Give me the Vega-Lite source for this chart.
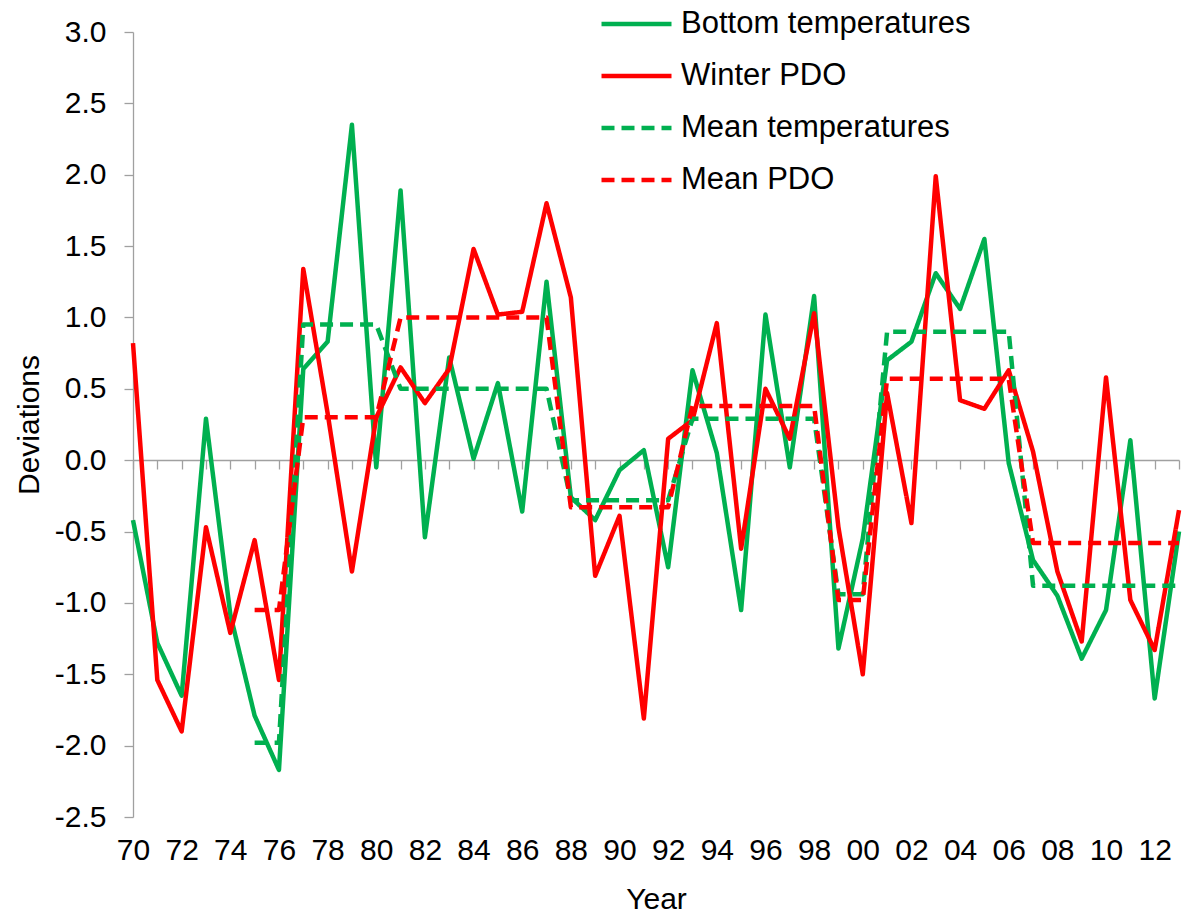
{
  "$schema": "https://vega.github.io/schema/vega-lite/v6.json",
  "width": 1046,
  "height": 785,
  "autosize": {"type": "none"},
  "padding": {"left": 133, "top": 32, "right": 3, "bottom": 101},
  "background": "white",
  "config": {"view": {"stroke": null}, "font": "Liberation Sans", "axis": {"grid": false}},
  "datasets": {
    "bt": [
      {"year":1970,"value":-0.42},{"year":1971,"value":-1.28},{"year":1972,"value":-1.65},{"year":1973,"value":0.29},{"year":1974,"value":-1.08},
      {"year":1975,"value":-1.79},{"year":1976,"value":-2.17},{"year":1977,"value":0.64},{"year":1978,"value":0.83},{"year":1979,"value":2.35},
      {"year":1980,"value":-0.05},{"year":1981,"value":1.89},{"year":1982,"value":-0.54},{"year":1983,"value":0.72},{"year":1984,"value":0.01},
      {"year":1985,"value":0.54},{"year":1986,"value":-0.36},{"year":1987,"value":1.25},{"year":1988,"value":-0.26},{"year":1989,"value":-0.42},
      {"year":1990,"value":-0.07},{"year":1991,"value":0.07},{"year":1992,"value":-0.75},{"year":1993,"value":0.63},{"year":1994,"value":0.05},
      {"year":1995,"value":-1.05},{"year":1996,"value":1.02},{"year":1997,"value":-0.05},{"year":1998,"value":1.15},{"year":1999,"value":-1.32},
      {"year":2000,"value":-0.55},{"year":2001,"value":0.70},{"year":2002,"value":0.83},{"year":2003,"value":1.31},{"year":2004,"value":1.06},
      {"year":2005,"value":1.55},{"year":2006,"value":-0.02},{"year":2007,"value":-0.70},{"year":2008,"value":-0.95},{"year":2009,"value":-1.39},
      {"year":2010,"value":-1.05},{"year":2011,"value":0.14},{"year":2012,"value":-1.67},{"year":2013,"value":-0.50}
    ],
    "pdo": [
      {"year":1970,"value":0.82},{"year":1971,"value":-1.54},{"year":1972,"value":-1.90},{"year":1973,"value":-0.47},{"year":1974,"value":-1.21},
      {"year":1975,"value":-0.56},{"year":1976,"value":-1.54},{"year":1977,"value":1.34},{"year":1978,"value":0.33},{"year":1979,"value":-0.78},
      {"year":1980,"value":0.30},{"year":1981,"value":0.65},{"year":1982,"value":0.40},{"year":1983,"value":0.64},{"year":1984,"value":1.48},
      {"year":1985,"value":1.02},{"year":1986,"value":1.04},{"year":1987,"value":1.80},{"year":1988,"value":1.14},{"year":1989,"value":-0.81},
      {"year":1990,"value":-0.39},{"year":1991,"value":-1.81},{"year":1992,"value":0.15},{"year":1993,"value":0.28},{"year":1994,"value":0.96},
      {"year":1995,"value":-0.62},{"year":1996,"value":0.50},{"year":1997,"value":0.15},{"year":1998,"value":1.03},{"year":1999,"value":-0.47},
      {"year":2000,"value":-1.50},{"year":2001,"value":0.47},{"year":2002,"value":-0.44},{"year":2003,"value":1.99},{"year":2004,"value":0.42},
      {"year":2005,"value":0.36},{"year":2006,"value":0.63},{"year":2007,"value":0.06},{"year":2008,"value":-0.78},{"year":2009,"value":-1.27},
      {"year":2010,"value":0.58},{"year":2011,"value":-0.98},{"year":2012,"value":-1.33},{"year":2013,"value":-0.35}
    ],
    "mt": [
      {"year":1975,"value":-1.98},{"year":1976,"value":-1.98},{"year":1977,"value":0.95},{"year":1978,"value":0.95},{"year":1979,"value":0.95},
      {"year":1980,"value":0.95},{"year":1981,"value":0.50},{"year":1982,"value":0.50},{"year":1983,"value":0.50},{"year":1984,"value":0.50},
      {"year":1985,"value":0.50},{"year":1986,"value":0.50},{"year":1987,"value":0.50},{"year":1988,"value":-0.28},{"year":1989,"value":-0.28},
      {"year":1990,"value":-0.28},{"year":1991,"value":-0.28},{"year":1992,"value":-0.28},{"year":1993,"value":0.29},{"year":1994,"value":0.29},
      {"year":1995,"value":0.29},{"year":1996,"value":0.29},{"year":1997,"value":0.29},{"year":1998,"value":0.29},{"year":1999,"value":-0.94},
      {"year":2000,"value":-0.94},{"year":2001,"value":0.90},{"year":2002,"value":0.90},{"year":2003,"value":0.90},{"year":2004,"value":0.90},
      {"year":2005,"value":0.90},{"year":2006,"value":0.90},{"year":2007,"value":-0.88},{"year":2008,"value":-0.88},{"year":2009,"value":-0.88},
      {"year":2010,"value":-0.88},{"year":2011,"value":-0.88},{"year":2012,"value":-0.88},{"year":2013,"value":-0.88}
    ],
    "mp": [
      {"year":1975,"value":-1.05},{"year":1976,"value":-1.05},{"year":1977,"value":0.30},{"year":1978,"value":0.30},{"year":1979,"value":0.30},
      {"year":1980,"value":0.30},{"year":1981,"value":1.00},{"year":1982,"value":1.00},{"year":1983,"value":1.00},{"year":1984,"value":1.00},
      {"year":1985,"value":1.00},{"year":1986,"value":1.00},{"year":1987,"value":1.00},{"year":1988,"value":-0.33},{"year":1989,"value":-0.33},
      {"year":1990,"value":-0.33},{"year":1991,"value":-0.33},{"year":1992,"value":-0.33},{"year":1993,"value":0.38},{"year":1994,"value":0.38},
      {"year":1995,"value":0.38},{"year":1996,"value":0.38},{"year":1997,"value":0.38},{"year":1998,"value":0.38},{"year":1999,"value":-0.98},
      {"year":2000,"value":-0.98},{"year":2001,"value":0.57},{"year":2002,"value":0.57},{"year":2003,"value":0.57},{"year":2004,"value":0.57},
      {"year":2005,"value":0.57},{"year":2006,"value":0.57},{"year":2007,"value":-0.58},{"year":2008,"value":-0.58},{"year":2009,"value":-0.58},
      {"year":2010,"value":-0.58},{"year":2011,"value":-0.58},{"year":2012,"value":-0.58},{"year":2013,"value":-0.58}
    ]
  },
  "layer": [
    {
      "data": {"name": "bt"},
      "transform": [{"calculate": "'Bottom temperatures'", "as": "series"}],
      "mark": {"type": "line", "strokeWidth": 4.5, "strokeJoin": "round"},
      "encoding": {}
    },
    {
      "data": {"name": "pdo"},
      "transform": [{"calculate": "'Winter PDO'", "as": "series"}],
      "mark": {"type": "line", "strokeWidth": 4.5, "strokeJoin": "round"},
      "encoding": {}
    },
    {
      "data": {"name": "mt"},
      "transform": [{"calculate": "'Mean temperatures'", "as": "series"}],
      "mark": {"type": "line", "strokeWidth": 4.5, "strokeJoin": "round"},
      "encoding": {}
    },
    {
      "data": {"name": "mp"},
      "transform": [{"calculate": "'Mean PDO'", "as": "series"}],
      "mark": {"type": "line", "strokeWidth": 4.5, "strokeJoin": "round"},
      "encoding": {}
    }
  ],
  "encoding": {
    "x": {
      "field": "year", "type": "quantitative",
      "scale": {"domain": [1970, 2013], "nice": false, "zero": false},
      "axis": {
        "values": [1970,1971,1972,1973,1974,1975,1976,1977,1978,1979,1980,1981,1982,1983,1984,1985,1986,1987,1988,1989,1990,1991,1992,1993,1994,1995,1996,1997,1998,1999,2000,2001,2002,2003,2004,2005,2006,2007,2008,2009,2010,2011,2012,2013],
        "format": "d",
        "labelExpr": "datum.value % 2 == 0 ? substring(datum.label, 2, 4) : ''",
        "offset": -357,
        "tickSize": 9, "tickColor": "#A0A0A0", "tickWidth": 1.3,
        "domainColor": "#A0A0A0", "domainWidth": 1.3,
        "labelPadding": 366, "labelFontSize": 30, "labelColor": "black",
        "labelOverlap": false, "labelFlush": false,
        "title": "Year", "titleFontSize": 30, "titleFontWeight": "normal", "titleColor": "black",
        "titleBaseline": "alphabetic", "titleY": 448
      }
    },
    "y": {
      "field": "value", "type": "quantitative",
      "scale": {"domain": [-2.5, 3], "nice": false, "zero": false},
      "axis": {
        "values": [-2.5,-2,-1.5,-1,-0.5,0,0.5,1,1.5,2,2.5,3],
        "format": ".1f",
        "labelExpr": "replace(datum.label, '\u2212', '-')",
        "tickSize": 9, "tickColor": "#A0A0A0", "tickWidth": 1.3,
        "domainColor": "#A0A0A0", "domainWidth": 1.3,
        "labelPadding": 18, "labelFontSize": 30, "labelColor": "black", "labelOverlap": false, "labelFlush": false,
        "title": "Deviations", "titleFontSize": 30, "titleFontWeight": "normal", "titleColor": "black", "titlePadding": 10
      }
    },
    "color": {
      "field": "series", "type": "nominal",
      "scale": {"domain": ["Bottom temperatures", "Winter PDO", "Mean temperatures", "Mean PDO"], "range": ["#00B050", "#FF0000", "#00B050", "#FF0000"]},
      "legend": {"title": null, "orient": "none", "legendX": 466, "legendY": -33, "symbolType": "stroke", "symbolSize": 4900, "symbolStrokeWidth": 4.5, "labelFontSize": 31, "labelColor": "black", "labelLimit": 400, "labelOffset": 7, "clipHeight": 50, "rowPadding": 2}
    },
    "strokeDash": {
      "field": "series", "type": "nominal",
      "scale": {"domain": ["Bottom temperatures", "Winter PDO", "Mean temperatures", "Mean PDO"], "range": [[1, 0], [1, 0], [13, 7], [13, 7]]},
      "legend": {"title": null, "orient": "none", "legendX": 466, "legendY": -33, "symbolType": "stroke", "symbolSize": 4900, "symbolStrokeWidth": 4.5, "labelFontSize": 31, "labelColor": "black", "labelLimit": 400, "labelOffset": 7, "clipHeight": 50, "rowPadding": 2}
    }
  }
}
